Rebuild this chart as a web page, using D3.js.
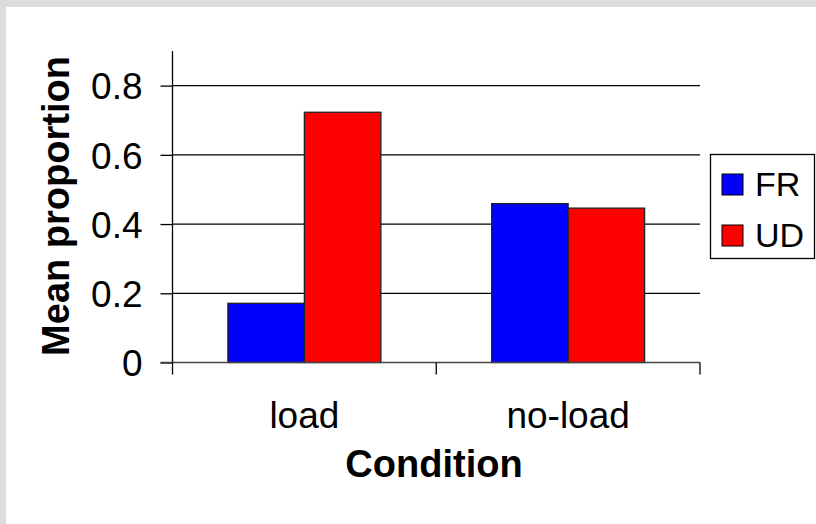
<!DOCTYPE html>
<html>
<head>
<meta charset="utf-8">
<script src="https://cdn.jsdelivr.net/npm/d3@7"></script>
<style>
  html, body { margin: 0; padding: 0; background: #ffffff; }
  svg { display: block; }
  text { font-family: "Liberation Sans", Arial, sans-serif; fill: #000; }
</style>
</head>
<body>
<svg id="chart" width="816" height="524"></svg>
<script>
const categories = ["load", "no-load"];
const seriesNames = ["FR", "UD"];
const seriesColors = ["#0000ff", "#ff0000"];
const FR = [0.171, 0.459];
const UD = [0.723, 0.446];
const yTicks = [0, 0.2, 0.4, 0.6, 0.8];
const yTickLabels = ["0", "0.2", "0.4", "0.6", "0.8"];

const seriesValues = [FR, UD];
const rows = categories.map((c, i) => ({
  cat: c,
  vals: seriesNames.map((s, j) => ({ key: s, value: seriesValues[j][i], color: seriesColors[j] }))
}));

const W = 816, H = 524;
const svg = d3.select("#chart");

svg.append("rect").attr("x", 0).attr("y", 0).attr("width", W).attr("height", H).attr("fill", "#dcdcdc");
svg.append("rect").attr("x", 6).attr("y", 7).attr("width", W - 6).attr("height", H - 7).attr("fill", "#ffffff");

const plot = { left: 172.5, right: 700, top: 51, bottom: 362.5 };

const x0 = d3.scaleBand().domain(categories).range([plot.left, plot.right])
  .paddingInner(0.42).paddingOuter(0.21);
const x1 = d3.scaleBand().domain(seriesNames).range([0, x0.bandwidth()]).padding(0);
const y = d3.scaleLinear().domain([0, 0.9]).range([plot.bottom, plot.top]);

svg.append("g").selectAll("line").data(yTicks.filter(t => t > 0)).join("line")
  .attr("x1", plot.left).attr("x2", plot.right)
  .attr("y1", d => y(d)).attr("y2", d => y(d))
  .attr("stroke", "#000").attr("stroke-width", 1.3);

const groups = svg.append("g").selectAll("g").data(rows).join("g")
  .attr("transform", d => `translate(${x0(d.cat)},0)`);
groups.selectAll("rect").data(d => d.vals).join("rect")
  .attr("x", d => x1(d.key))
  .attr("y", d => y(d.value))
  .attr("width", x1.bandwidth())
  .attr("height", d => y(0) - y(d.value))
  .attr("fill", d => d.color)
  .attr("stroke", "#222").attr("stroke-width", 1.3);

const yAxis = d3.axisLeft(y).tickValues(yTicks).tickSize(12).tickPadding(18)
  .tickFormat((d, i) => yTickLabels[i]);
const gy = svg.append("g").attr("transform", `translate(${plot.left},0)`).call(yAxis);
gy.select(".domain").attr("d", `M0,${plot.top}V${plot.bottom}`).attr("stroke", "#000").attr("stroke-width", 1.3);
gy.selectAll(".tick line").attr("stroke", "#000").attr("stroke-width", 1.3);
gy.selectAll(".tick text").attr("font-size", 37).attr("dy", "0.36em")
  .attr("font-family", "Liberation Sans, Arial, sans-serif").attr("fill", "#000");

const gx = svg.append("g").attr("transform", `translate(0,${plot.bottom})`);
gx.append("line").attr("x1", plot.left - 12).attr("x2", plot.right)
  .attr("y1", 0).attr("y2", 0).attr("stroke", "#444").attr("stroke-width", 1.5);
const boundaries = [plot.left, ...categories.map(c => x0(c) + x0.bandwidth() + x0.step() * x0.paddingInner() / 2).slice(0, -1), plot.right];
gx.selectAll("line.b").data(boundaries).join("line").attr("class", "b")
  .attr("x1", d => d).attr("x2", d => d).attr("y1", 0).attr("y2", 12)
  .attr("stroke", "#000").attr("stroke-width", 1.3);
gx.selectAll("text").data(categories).join("text")
  .attr("x", d => x0(d) + x0.bandwidth() / 2)
  .attr("y", 65)
  .attr("text-anchor", "middle")
  .attr("font-size", 37)
  .text(d => d);

svg.append("text").attr("x", 434).attr("y", 477).attr("text-anchor", "middle")
  .attr("font-size", 38).attr("font-weight", "bold").text("Condition");
svg.append("text").attr("transform", "translate(69,206) rotate(-90)").attr("text-anchor", "middle")
  .attr("font-size", 38).attr("font-weight", "bold").text("Mean proportion");

const lg = svg.append("g");
lg.append("rect").attr("x", 710.5).attr("y", 154.5).attr("width", 104).attr("height", 104)
  .attr("fill", "#fff").attr("stroke", "#000").attr("stroke-width", 1.3);
const items = lg.selectAll("g").data(seriesNames).join("g")
  .attr("transform", (d, i) => `translate(722,${174 + i * 51})`);
items.append("rect").attr("width", 21).attr("height", 21)
  .attr("fill", (d, i) => seriesColors[i]).attr("stroke", "#000").attr("stroke-width", 1);
items.append("text").attr("x", 33).attr("y", 22).attr("font-size", 34).text(d => d);
</script>
</body>
</html>
